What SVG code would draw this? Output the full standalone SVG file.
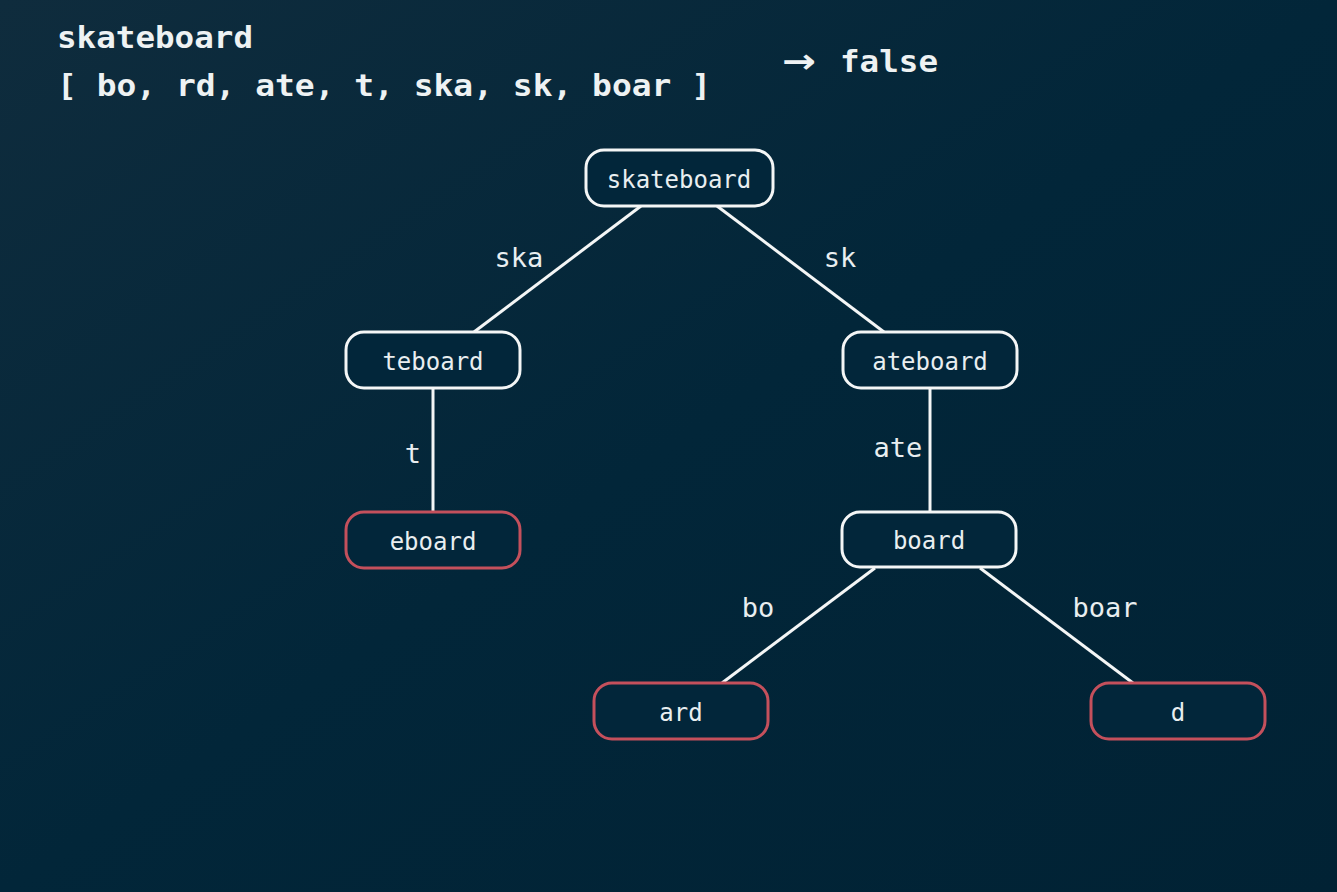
<svg xmlns="http://www.w3.org/2000/svg" width="1337" height="892" viewBox="0 0 1337 892">
<defs>
<linearGradient id="bg" x1="0" y1="0" x2="1" y2="1">
<stop offset="0" stop-color="#0f2c3d"/>
<stop offset="0.5" stop-color="#022639"/>
<stop offset="1" stop-color="#012234"/>
</linearGradient>
<style>
.node rect{fill:#02263a;stroke:#f4f6f6;stroke-width:3}
.node.red rect{stroke:#c4505c}
.node text{font-family:"DejaVu Sans Mono","Liberation Mono",monospace;font-size:24px;fill:#e9eef0;text-anchor:middle}
.edges line{stroke:#f4f6f6;stroke-width:3}
.elabel{font-family:"DejaVu Sans Mono","Liberation Mono",monospace;font-size:27px;fill:#e9eef0;text-anchor:middle}
.head{font-family:"DejaVu Sans Mono","Liberation Mono",monospace;font-weight:bold;font-size:31px;fill:#eef2f3}
.arrow{font-family:"DejaVu Sans","Liberation Sans",sans-serif;font-weight:bold;font-size:34px;fill:#eef2f3}
</style>
</defs>
<rect width="1337" height="892" fill="url(#bg)"/>
<text class="head" x="57" y="48" textLength="196" lengthAdjust="spacingAndGlyphs">skateboard</text>
<text class="head" x="57" y="96" textLength="654" lengthAdjust="spacingAndGlyphs">[ bo, rd, ate, t, ska, sk, boar ]</text>
<text class="arrow" x="782" y="73" textLength="34" lengthAdjust="spacingAndGlyphs">→</text>
<text class="head" x="840" y="72" textLength="98" lengthAdjust="spacingAndGlyphs">false</text>
<g class="edges">
<line x1="641" y1="206" x2="474" y2="332"/>
<line x1="717" y1="206" x2="884" y2="332"/>
<line x1="433" y1="388" x2="433" y2="512"/>
<line x1="930" y1="388" x2="930" y2="512"/>
<line x1="875" y1="568" x2="722" y2="683"/>
<line x1="980" y1="568" x2="1133" y2="683"/>
<text class="elabel" x="519" y="267">ska</text>
<text class="elabel" x="840" y="267">sk</text>
<text class="elabel" x="413" y="463">t</text>
<text class="elabel" x="898" y="457">ate</text>
<text class="elabel" x="758" y="617">bo</text>
<text class="elabel" x="1105" y="617">boar</text>
</g>
<g id="n-skateboard" class="node"><rect x="586" y="150" width="187" height="56" rx="18"/><text x="679" y="188">skateboard</text></g>
<g id="n-teboard" class="node"><rect x="346" y="332" width="174" height="56" rx="18"/><text x="433" y="370">teboard</text></g>
<g id="n-ateboard" class="node"><rect x="843" y="332" width="174" height="56" rx="18"/><text x="930" y="370">ateboard</text></g>
<g id="n-eboard" class="node red"><rect x="346" y="512" width="174" height="56" rx="18"/><text x="433" y="550">eboard</text></g>
<g id="n-board" class="node"><rect x="842" y="512" width="174" height="55" rx="18"/><text x="929" y="549">board</text></g>
<g id="n-ard" class="node red"><rect x="594" y="683" width="174" height="56" rx="18"/><text x="681" y="721">ard</text></g>
<g id="n-d" class="node red"><rect x="1091" y="683" width="174" height="56" rx="18"/><text x="1178" y="721">d</text></g>
</svg>
